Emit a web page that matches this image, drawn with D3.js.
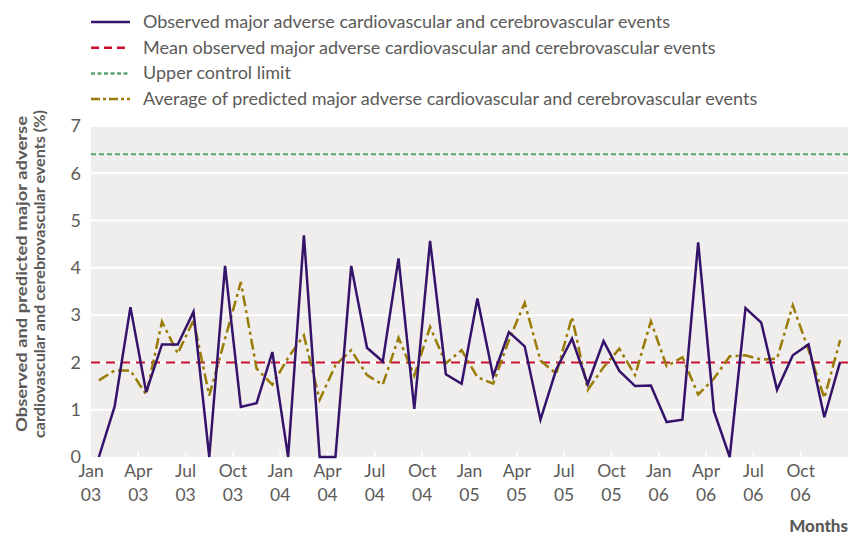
<!DOCTYPE html>
<html>
<head>
<meta charset="utf-8">
<script src="https://cdn.jsdelivr.net/npm/d3@7"></script>
<style>
  body { margin: 0; background: #fff; }
  text { font-family: Lato, "Open Sans", sans-serif; }
</style>
</head>
<body>
<div class="chart"></div>
<script>
// monthly values, Jan 03 .. Dec 06
var observed = [0,1.07,3.17,1.37,2.38,2.38,3.07,0,4.04,1.06,1.14,2.22,
  0,4.69,0,0,4.04,2.31,2.02,4.20,1.02,4.57,1.75,1.55,
  3.35,1.71,2.64,2.34,0.79,1.85,2.50,1.54,2.45,1.82,1.50,1.51,
  0.74,0.79,4.54,0.97,0,3.15,2.84,1.42,2.15,2.38,0.84,2.01];
var predicted = [1.62,1.83,1.83,1.32,2.86,2.19,2.89,1.30,2.50,3.70,1.87,1.53,
  2.10,2.57,1.21,1.94,2.26,1.73,1.53,2.52,1.72,2.75,1.98,2.26,
  1.69,1.55,2.47,3.26,2.04,1.76,2.96,1.42,1.90,2.29,1.73,2.87,
  1.92,2.11,1.32,1.66,2.13,2.15,2.06,2.08,3.21,2.26,1.25,2.47];
var meanObserved = 2.0;
var upperLimit = 6.4;
var quarterMonths = ["Jan","Apr","Jul","Oct"];
var years = ["03","04","05","06"];
var yTicks = [0,1,2,3,4,5,6,7];
var legendLabels = [
  "Observed major adverse cardiovascular and cerebrovascular events",
  "Mean observed major adverse cardiovascular and cerebrovascular events",
  "Upper control limit",
  "Average of predicted major adverse cardiovascular and cerebrovascular events"
];

var svgWidth = 848, svgHeight = 537;
var margin = {top: 126, right: 0, bottom: 80, left: 91};
var width = svgWidth - margin.left - margin.right;
var height = 331;

var textCol = "#5b5a58";
var colObs = "#36136a", colMean = "#c8102e", colUcl = "#5da36d", colPred = "#9a7b06";

var svg = d3.select(".chart").append("svg")
  .attr("width", svgWidth).attr("height", svgHeight);

var g = svg.append("g").attr("transform", `translate(${margin.left},${margin.top})`);

var x = d3.scaleLinear().domain([0, observed.length]).range([0, width]);
var y = d3.scaleLinear().domain([0, 7]).range([height, 0]);

// background
g.append("rect").attr("width", width).attr("height", height).attr("fill", "#efeeed");

// gridlines
g.selectAll(".grid").data(yTicks.slice(1)).enter().append("line")
  .attr("x1", 0).attr("x2", width)
  .attr("y1", d => y(d)).attr("y2", d => y(d))
  .attr("stroke", "#fff").attr("stroke-width", 2);

// quarter ticks (white, inside bottom)
var tickIdx = d3.range(0, observed.length, 3);
g.selectAll(".qtick").data(tickIdx.slice(1)).enter().append("line")
  .attr("x1", d => x(d)).attr("x2", d => x(d))
  .attr("y1", height).attr("y2", height - 6)
  .attr("stroke", "#fff").attr("stroke-width", 1.5);

// y axis labels
var yAxis = d3.axisLeft(y).tickValues(yTicks).tickFormat(d3.format("d")).tickSize(0).tickPadding(10);
var ya = g.append("g").call(yAxis);
ya.select(".domain").remove();
ya.selectAll("text").attr("fill", textCol).style("font-size", "18px")
  .style("font-family", "Lato, sans-serif");

// x axis labels
var xLab = g.append("g").attr("transform", `translate(0,${height})`);
tickIdx.forEach(function(m, i) {
  var t = xLab.append("text").attr("x", x(m)).attr("text-anchor", "middle")
    .attr("fill", textCol).style("font-size", "17.5px");
  t.append("tspan").attr("x", x(m)).attr("y", 20).text(quarterMonths[i % 4]);
  t.append("tspan").attr("x", x(m)).attr("y", 44).text(years[Math.floor(i / 4)]);
});

// reference lines
g.append("line").attr("x1", 0).attr("x2", width)
  .attr("y1", y(upperLimit)).attr("y2", y(upperLimit))
  .attr("stroke", colUcl).attr("stroke-width", 2).attr("stroke-dasharray", "5,3");
g.append("line").attr("x1", 0).attr("x2", width)
  .attr("y1", y(meanObserved)).attr("y2", y(meanObserved))
  .attr("stroke", colMean).attr("stroke-width", 2).attr("stroke-dasharray", "9,6");

var line = d3.line().x((d, i) => x(i + 0.5)).y(d => y(d));

g.append("path").datum(predicted).attr("d", line)
  .attr("fill", "none").attr("stroke", colPred).attr("stroke-width", 2.5)
  .attr("stroke-dasharray", "11,4,3,4");
g.append("path").datum(observed).attr("d", line)
  .attr("fill", "none").attr("stroke", colObs).attr("stroke-width", 2.5)
  .attr("stroke-linejoin", "miter");

// legend
var legendStyles = [
  {c: colObs, dash: null},
  {c: colMean, dash: "8,5"},
  {c: colUcl, dash: "4,2.5"},
  {c: colPred, dash: "9,3,3,3"}
];
var lg = svg.append("g");
legendLabels.forEach(function(lbl, i) {
  var yy = 22 + i * 25.7;
  lg.append("line").attr("x1", 91).attr("x2", 130).attr("y1", yy).attr("y2", yy)
    .attr("stroke", legendStyles[i].c).attr("stroke-width", 2.5)
    .attr("stroke-dasharray", legendStyles[i].dash);
  lg.append("text").attr("x", 143).attr("y", yy + 6).attr("fill", textCol)
    .style("font-size", "18px").text(lbl);
});

// axis titles
var yt = svg.append("text")
  .attr("transform", `translate(0,274) rotate(-90)`)
  .attr("text-anchor", "middle").attr("fill", textCol)
  .style("font-size", "16px").style("font-weight", "bold");
yt.append("tspan").attr("x", 0).attr("y", 27)
  .attr("textLength", 316).attr("lengthAdjust", "spacingAndGlyphs")
  .text("Observed and predicted major adverse");
yt.append("tspan").attr("x", 0).attr("y", 45)
  .attr("textLength", 328).attr("lengthAdjust", "spacingAndGlyphs")
  .text("cardiovascular and cerebrovascular events (%)");

svg.append("text").attr("x", 848).attr("y", 532).attr("text-anchor", "end")
  .attr("fill", textCol).style("font-size", "17px").style("font-weight", "900")
  .text("Months");
</script>
</body>
</html>
